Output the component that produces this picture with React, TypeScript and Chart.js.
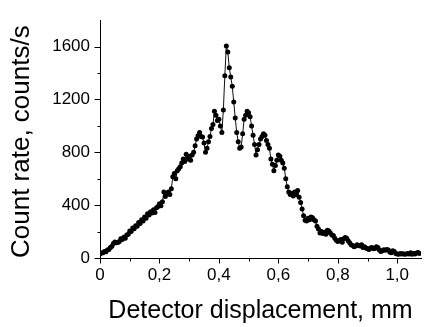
import React, { useEffect, useRef } from "react";
import { Chart, registerables } from "chart.js";

Chart.register(...registerables);

// Detector displacement grid (mm): start and step of the scan
const X_START = 0;
const X_STEP = 0.005;

// Count rate, counts/s
const counts: number[] = [
  30, 38, 40, 50, 48, 60, 65, 80, 88, 110,
  122, 115, 118, 125, 145, 140, 158, 150, 175, 180,
  205, 200, 228, 222, 245, 240, 268, 262, 290, 280,
  310, 300, 335, 325, 350, 340, 365, 345, 380, 390,
  410, 395, 425, 500, 465, 485, 500, 480, 525, 615,
  640, 600, 660, 675, 690, 720, 750, 730, 785, 750,
  770, 740, 780, 800, 850, 900, 925, 950, 920, 915,
  870, 800, 830, 880, 920, 980, 1010, 1110, 1080, 1040,
  1050, 1000, 950, 1120, 1380, 1605, 1560, 1440, 1370, 1300,
  1180, 1060, 950, 880, 830, 840, 940, 1050, 1080, 1110,
  1100, 1070, 1000, 930, 860, 780, 820, 860, 900, 920,
  940, 930, 890, 860, 830, 750, 710, 660, 700, 740,
  780, 770, 740, 720, 680, 600, 540, 500, 480, 490,
  470, 500, 480, 510, 460, 420, 370, 320, 285, 280,
  300, 290, 310, 305, 290, 280, 240, 220, 190, 200,
  185, 195, 180, 210, 205, 190, 175, 170, 150, 135,
  125, 130, 140, 120, 145, 155, 150, 130, 115, 100,
  95, 85, 90, 100, 95, 90, 100, 80, 85, 75,
  70, 65, 75, 80, 70, 72, 85, 80, 60, 50,
  55, 62, 58, 65, 60, 45, 40, 55, 50, 35,
  30, 28, 35, 30, 32, 28, 30, 35, 30, 40,
  28, 35, 30, 38, 42, 35,
];

// Axis ranges and tick labels
const X_MIN = 0;
const X_MAX = 1.08;
const Y_MIN = 0;
const Y_MAX = 1800;
const X_MAJOR = [0, 0.2, 0.4, 0.6, 0.8, 1.0];
const X_MINOR = [0.1, 0.3, 0.5, 0.7, 0.9];
const Y_MAJOR = [0, 400, 800, 1200, 1600];
const Y_MINOR = [200, 600, 1000, 1400];

const FONT = "'Liberation Sans', Arial, Helvetica, sans-serif";

const tickPlugin = {
  id: "outerTicks",
  afterDraw(chart: any) {
    const { ctx, chartArea, scales } = chart;
    const xs = scales.x;
    const ys = scales.y;
    ctx.save();
    ctx.strokeStyle = "#000";
    ctx.lineWidth = 1;
    const drawY = (v: number, len: number) => {
      const py = Math.round(ys.getPixelForValue(v)) + 0.5;
      const px = Math.round(chartArea.left) + 0.5;
      ctx.beginPath();
      ctx.moveTo(px - len, py);
      ctx.lineTo(px, py);
      ctx.stroke();
    };
    const drawX = (v: number, len: number) => {
      const px = Math.round(xs.getPixelForValue(v)) + 0.5;
      const py = Math.round(chartArea.bottom) + 0.5;
      ctx.beginPath();
      ctx.moveTo(px, py);
      ctx.lineTo(px, py + len);
      ctx.stroke();
    };
    Y_MAJOR.forEach((v) => drawY(v, 6));
    Y_MINOR.forEach((v) => drawY(v, 3));
    X_MAJOR.forEach((v) => drawX(v, 5));
    X_MINOR.forEach((v) => drawX(v, 3));
    ctx.restore();
  },
};

export default function App() {
  const ref = useRef<HTMLCanvasElement | null>(null);

  useEffect(() => {
    document.body.style.margin = "0";
    const canvas = ref.current;
    if (!canvas) return;
    const points = counts.map((c, i) => ({ x: X_START + i * X_STEP, y: c }));
    const chart = new Chart(canvas, {
      type: "line",
      data: {
        datasets: [
          {
            data: points,
            borderColor: "#111",
            borderWidth: 1,
            pointRadius: 2.5,
            pointBackgroundColor: "#000",
            pointBorderWidth: 0,
            tension: 0,
          },
        ],
      },
      options: {
        responsive: false,
        animation: false,
        devicePixelRatio: 1,
        layout: { padding: { top: 13, right: 5, left: 0, bottom: 0 } },
        plugins: { legend: { display: false }, tooltip: { enabled: false } },
        scales: {
          x: {
            type: "linear",
            min: X_MIN,
            max: X_MAX,
            afterFit: (s: any) => {
              s.height = 69;
            },
            afterBuildTicks: (s: any) => {
              s.ticks = X_MAJOR.map((v) => ({ value: v }));
            },
            grid: { display: false, drawTicks: false },
            border: { display: true, color: "#000", width: 1 },
            ticks: {
              padding: 7,
              color: "#000",
              font: { family: FONT, size: 17 },
              maxRotation: 0,
              autoSkip: false,
              callback: (v: any) => (Number(v) === 0 ? "0" : Number(v).toFixed(1).replace(".", ",")),
            },
            title: {
              display: true,
              text: "Detector displacement, mm",
              color: "#000",
              font: { family: FONT, size: 25, lineHeight: 1 },
              padding: { top: 0, bottom: 3 },
            },
          },
          y: {
            type: "linear",
            min: Y_MIN,
            max: Y_MAX,
            afterFit: (s: any) => {
              s.width = 100;
            },
            afterBuildTicks: (s: any) => {
              s.ticks = Y_MAJOR.map((v) => ({ value: v }));
            },
            grid: { display: false, drawTicks: false },
            border: { display: true, color: "#000", width: 1 },
            ticks: {
              padding: 10,
              color: "#000",
              font: { family: FONT, size: 17 },
              autoSkip: false,
              callback: (v: any) => String(v),
            },
            title: {
              display: true,
              text: "Count rate, counts/s",
              align: "start",
              color: "#000",
              font: { family: FONT, size: 26, lineHeight: 1 },
              padding: { top: 9, bottom: 0 },
            },
          },
        },
      },
      plugins: [tickPlugin],
    });
    return () => chart.destroy();
  }, []);

  return (
    <div style={{ width: 426, height: 327, background: "#fff" }}>
      <canvas ref={ref} width={426} height={327} style={{ display: "block" }} />
    </div>
  );
}
